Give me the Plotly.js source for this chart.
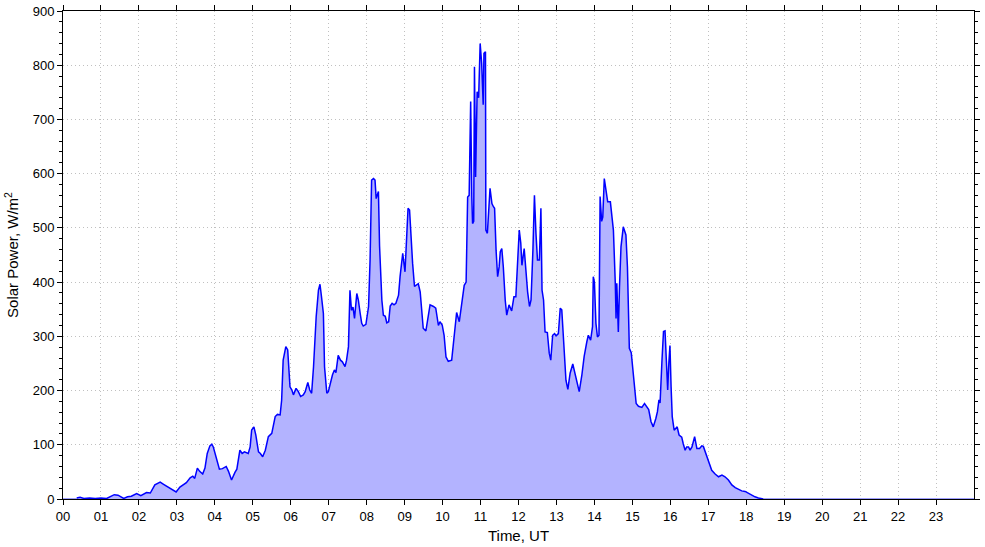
<!DOCTYPE html>
<html>
<head>
<meta charset="utf-8">
<script src="https://cdn.plot.ly/plotly-3.0.1.min.js"></script>
<style>html,body{margin:0;padding:0;background:#fff}#chart{width:985px;height:547px}</style>
</head>
<body>
<div id="chart"></div>
<script>
// Time in decimal hours (UT)
const timeHours = [0.36,0.45,0.55,0.7,0.85,1.0,1.15,1.25,1.35,1.45,1.55,1.6,1.7,1.8,1.94,2.05,2.2,2.3,2.42,2.56,2.65,2.75,2.85,2.98,
3.08,3.17,3.25,3.35,3.42,3.47,3.54,3.6,3.68,3.74,3.8,3.87,3.92,3.96,4.03,4.12,4.2,4.3,4.36,4.44,4.53,4.58,4.66,4.72,4.78,4.88,4.93,4.97,
5.03,5.08,5.15,5.2,5.26,5.33,5.41,5.5,5.59,5.65,5.72,5.76,5.8,5.87,5.92,5.98,6.03,6.07,6.14,6.2,6.26,6.33,6.38,6.45,6.5,6.55,6.6,6.67,
6.73,6.77,6.81,6.86,6.89,6.95,6.99,7.04,7.1,7.15,7.19,7.25,7.31,7.36,7.43,7.47,7.52,7.56,7.6,7.64,7.68,7.74,7.78,7.83,7.87,7.91,7.98,
8.05,8.09,8.13,8.18,8.22,8.25,8.31,8.34,8.4,8.44,8.49,8.53,8.58,8.62,8.67,8.72,8.77,8.84,8.88,8.95,9.01,9.06,9.09,9.13,9.16,9.21,9.26,
9.31,9.36,9.41,9.45,9.49,9.56,9.6,9.67,9.76,9.82,9.89,9.93,9.99,10.04,10.09,10.15,10.24,10.3,10.37,10.44,10.51,10.57,10.62,10.66,10.7,
10.74,10.77,10.79,10.82,10.84,10.87,10.91,10.95,10.99,11.03,11.07,11.09,11.13,11.14,11.18,11.25,11.3,11.34,11.37,11.41,11.45,11.49,
11.52,11.56,11.6,11.65,11.69,11.75,11.82,11.88,11.93,11.97,12.02,12.06,12.09,12.15,12.19,12.24,12.29,12.33,12.38,12.42,12.46,12.5,
12.55,12.59,12.62,12.66,12.7,12.76,12.81,12.85,12.9,12.95,12.99,13.05,13.1,13.14,13.18,13.25,13.3,13.36,13.43,13.49,13.55,13.6,13.67,
13.73,13.8,13.84,13.9,13.95,13.97,14.0,14.04,14.08,14.12,14.15,14.19,14.22,14.26,14.31,14.35,14.42,14.46,14.5,14.55,14.57,14.59,14.63,
14.66,14.7,14.76,14.83,14.87,14.92,14.97,15.03,15.1,15.16,15.25,15.32,15.38,15.43,15.49,15.55,15.62,15.66,15.7,15.73,15.78,15.82,15.86,
15.91,15.93,15.96,15.99,16.02,16.05,16.1,16.14,16.18,16.23,16.3,16.34,16.39,16.43,16.48,16.52,16.57,16.64,16.7,16.77,16.83,16.87,16.92,
16.98,17.03,17.09,17.18,17.27,17.36,17.44,17.53,17.62,17.71,17.79,17.88,17.97,18.06,18.15,18.23,18.32,18.41,18.45];

// Solar power, W/m^2
const solarPower = [2,3,1,2,1,2,1,5,8,7,2,1,4,5,10,6,12,11,26,31,27,23,18,13,
22,26,30,39,42,38,57,51,46,57,84,98,101,96,78,55,56,60,51,35,49,55,90,84,87,84,96,127,
133,118,87,84,78,90,115,121,152,156,155,182,256,281,275,207,201,192,204,198,189,192,198,215,201,195,244,336,
385,396,373,342,244,195,198,213,229,238,233,265,256,253,244,256,281,385,348,354,333,379,367,342,324,319,322,
355,441,588,591,588,554,567,466,367,339,337,325,327,356,361,358,361,376,410,453,419,493,536,533,490,435,392,
395,397,382,348,315,310,330,358,355,352,320,327,321,302,262,254,256,300,344,327,360,394,400,557,560,
733,557,508,512,797,594,751,740,840,803,727,822,825,496,490,573,545,539,536,458,410,428,
456,462,428,367,339,358,347,373,373,428,496,472,431,462,422,382,355,367,459,560,490,441,
441,536,385,367,308,307,269,256,302,305,301,305,352,349,302,219,202,232,249,232,210,198,229,
263,290,302,293,318,410,400,324,299,302,558,512,520,591,567,548,548,527,496,398,333,398,308,
390,465,502,487,428,278,270,226,176,171,169,176,169,165,143,133,149,161,183,177,256,309,310,
244,201,250,283,207,152,127,130,133,118,114,102,90,96,96,90,96,115,93,93,98,97,87,
72,66,53,46,41,44,41,35,26,21,18,15,14,10,7,4,2,1,0];

// Night-time zero baseline (no data)
const nightHours = [0, 0.36, null, 18.45, 24];
const nightPower = [0, 0, null, 0, 0];

const hourTicks = [0,1,2,3,4,5,6,7,8,9,10,11,12,13,14,15,16,17,18,19,20,21,22,23];
const hourLabels = ["00","01","02","03","04","05","06","07","08","09","10","11","12","13","14","15","16","17","18","19","20","21","22","23"];

const traces = [
  {x: nightHours, y: nightPower, mode: 'lines', line: {color: '#7f7fff', width: 1.5}, hoverinfo: 'skip', showlegend: false},
  {x: timeHours, y: solarPower, mode: 'lines', fill: 'tozeroy', fillcolor: '#b3b3ff',
   line: {color: '#0000ff', width: 1.5}, showlegend: false}
];

const font = {family: 'Liberation Sans, Arial, sans-serif', size: 13, color: '#000'};
const titleFont = {family: 'Liberation Sans, Arial, sans-serif', size: 15, color: '#000'};
const layout = {
  width: 985, height: 547,
  margin: {l: 63, r: 11, t: 11, b: 48},
  paper_bgcolor: '#fff', plot_bgcolor: '#fff',
  font: font,
  showlegend: false,
  xaxis: {
    range: [0, 24], tickmode: 'array', tickvals: hourTicks, ticktext: hourLabels,
    ticks: 'outside', ticklen: 5, tickcolor: '#000', tickwidth: 1,
    showline: true, linecolor: '#000', linewidth: 1, mirror: 'ticks',
    showgrid: true, gridcolor: '#c0c0c0', griddash: '1px,3px', gridwidth: 1,
    zeroline: false,
    title: {text: 'Time, UT', font: titleFont, standoff: 7},
    tickfont: font
  },
  yaxis: {
    range: [0, 900], dtick: 100, tick0: 0,
    ticks: 'outside', ticklen: 5, tickcolor: '#000', tickwidth: 1,
    minor: {dtick: 20, ticks: 'outside', ticklen: 3, tickcolor: '#000', showgrid: false},
    showline: true, linecolor: '#000', linewidth: 1, mirror: 'ticks',
    showgrid: true, gridcolor: '#c0c0c0', griddash: '1px,3px', gridwidth: 1,
    zeroline: false,
    title: {text: 'Solar Power, W/m<sup>2</sup>', font: titleFont, standoff: 10},
    tickfont: font
  }
};

Plotly.newPlot('chart', traces, layout, {displayModeBar: false, staticPlot: true});
</script>
</body>
</html>
